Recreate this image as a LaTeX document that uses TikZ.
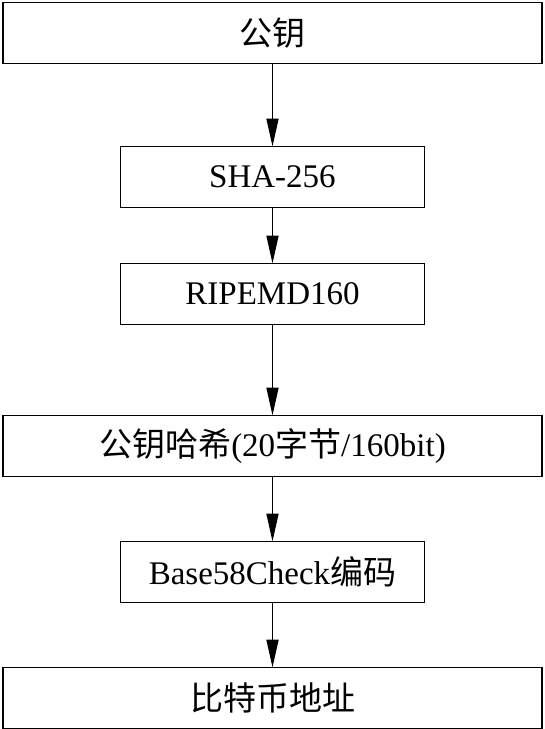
\documentclass[tikz,border=0pt]{standalone}
\usepackage{fontspec}
\setmainfont{Liberation Serif}
\newfontfamily\cjk{Noto Sans CJK SC}
\usepackage{tikz}
\usetikzlibrary{positioning,arrows.meta}

\begin{document}
\begin{tikzpicture}[
  x=1pt, y=1pt,
  node distance=60pt,
  box/.style={draw, line width=1.7pt, minimum height=61pt, inner sep=0pt, outer sep=0pt,
    font=\fontsize{33}{38}\selectfont},
  widebox/.style={box, minimum width=539pt},
  narrowbox/.style={box, minimum width=304pt},
  arrow/.style={-{Triangle[length=28pt,width=12pt]}, line width=1.7pt}
]
\useasboundingbox (0,0) rectangle (545,-729);

% Top
\node[widebox] (key) at (272.5,-33) {\cjk 公钥};

% Hashing steps
\node[narrowbox, below=83pt of key] (sha) {SHA-256};
\node[narrowbox, below=56pt of sha] (ripemd) {RIPEMD160};
\node[widebox, below=91pt of ripemd] (hash) {{\cjk 公钥哈希}(20{\cjk 字节}/160bit)};

% Encoding
\node[narrowbox, below=65pt of hash] (enc) {Base58Check{\cjk 编码}};
\node[widebox, below=65pt of enc] (addr) {\cjk 比特币地址};

% Arrows
\draw[arrow] (key) -- (sha);
\draw[arrow] (sha) -- (ripemd);
\draw[arrow] (ripemd) -- (hash);
\draw[arrow] (hash) -- (enc);
\draw[arrow] (enc) -- (addr);

\end{tikzpicture}
\end{document}
